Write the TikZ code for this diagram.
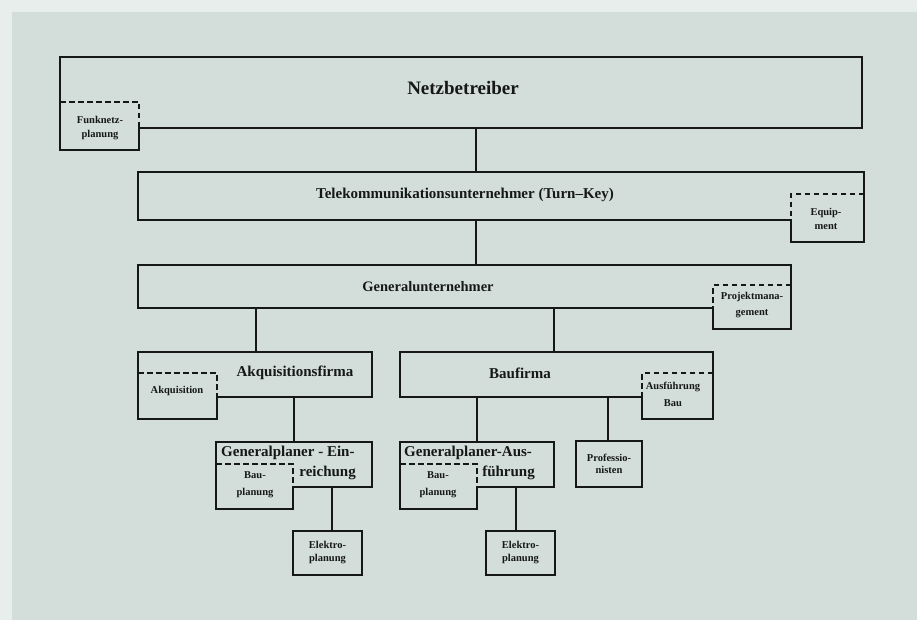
\documentclass[tikz,border=0pt]{standalone}
\usepackage{fontspec}
\setmainfont{Liberation Serif}
\definecolor{paper}{RGB}{232,238,236}
\definecolor{bg}{RGB}{211,222,219}
\definecolor{ink}{RGB}{22,24,24}
\begin{document}
\begin{tikzpicture}[x=1pt,y=-1pt,
  boxline/.style={draw=ink, line width=2pt, line join=miter},
  tabdash/.style={draw=ink, line width=1.7pt, dash pattern=on 5.5pt off 3.5pt},
  conn/.style={draw=ink, line width=2pt},
  bigtxt/.style={font=\bfseries\fontsize{19}{22}\selectfont, text=ink, inner sep=0pt},
  midtxt/.style={font=\bfseries\fontsize{15}{18}\selectfont, text=ink, inner sep=0pt},
  smalltxt/.style={font=\bfseries\fontsize{10.5}{14}\selectfont, text=ink, inner sep=0pt, align=center}]
\useasboundingbox (0,0) rectangle (917,620);
\fill[paper] (0,0) rectangle (917,620);
\fill[bg] (12,12) rectangle (917,620);

% ---------- Netzbetreiber ----------
\draw[boxline] (60,57) -- (862,57) -- (862,128) -- (139,128) -- (139,150) -- (60,150) -- cycle;
\draw[tabdash] (60,102) -- (139,102) -- (139,128);
\node[bigtxt] (netz) at (463,88) {Netzbetreiber};
\node[smalltxt] (funk) at (100,128) {Funknetz-\\planung};
\coordinate (netz-s) at (476,128);

% ---------- Telekom ----------
\draw[boxline] (138,172) -- (864,172) -- (864,242) -- (791,242) -- (791,220) -- (138,220) -- cycle;
\draw[tabdash] (864,194) -- (791,194) -- (791,220);
\node[midtxt] (tele) at (465,195) {Telekommunikationsunternehmer (Turn--Key)};
\node[smalltxt] (equip) at (826,219) {Equip-\\ment};
\coordinate (tele-n) at (476,172);
\coordinate (tele-s) at (476,220);

% ---------- Generalunternehmer ----------
\draw[boxline] (138,265) -- (791,265) -- (791,329) -- (713,329) -- (713,308) -- (138,308) -- cycle;
\draw[tabdash] (791,285) -- (713,285) -- (713,308);
\node[font=\bfseries\fontsize{14.5}{17}\selectfont, text=ink, inner sep=0pt] (gu) at (428,287) {Generalunternehmer};
\node[smalltxt, font=\bfseries\fontsize{10.5}{16}\selectfont] (projekt) at (752,305) {Projektmana-\\gement};
\coordinate (gu-n) at (476,265);
\coordinate (gu-s1) at (256,308);
\coordinate (gu-s2) at (554,308);

% ---------- Akquisitionsfirma ----------
\draw[boxline] (138,352) -- (372,352) -- (372,397) -- (217,397) -- (217,419) -- (138,419) -- cycle;
\draw[tabdash] (138,373) -- (217,373) -- (217,397);
\node[midtxt] (akqf) at (295,373) {Akquisitionsfirma};
\node[smalltxt] (akq) at (177,391) {Akquisition};
\coordinate (akqf-n) at (256,352);
\coordinate (akqf-s) at (294,397);

% ---------- Baufirma ----------
\draw[boxline] (400,352) -- (713,352) -- (713,419) -- (642,419) -- (642,397) -- (400,397) -- cycle;
\draw[tabdash] (713,373) -- (642,373) -- (642,397);
\node[midtxt] (bau) at (520,373) {Baufirma};
\node[smalltxt, font=\bfseries\fontsize{10.5}{17}\selectfont] (ausf) at (673,394) {Ausführung\\Bau};
\coordinate (bau-n) at (554,352);
\coordinate (bau-s1) at (477,397);
\coordinate (bau-s2) at (608,397);

% ---------- Generalplaner - Einreichung ----------
\draw[boxline] (216,442) -- (372,442) -- (372,487) -- (293,487) -- (293,509) -- (216,509) -- cycle;
\draw[tabdash] (216,464) -- (293,464) -- (293,487);
\node[midtxt, anchor=west] (gpe1) at (221,453) {Generalplaner - Ein-};
\node[midtxt, anchor=east] (gpe2) at (356,473) {reichung};
\node[smalltxt, font=\bfseries\fontsize{10.5}{17}\selectfont] (baupl1) at (255,485) {Bau-\\planung};
\coordinate (gpe-n) at (294,442);
\coordinate (gpe-s) at (332,487);

% ---------- Generalplaner-Ausfuehrung ----------
\draw[boxline] (400,442) -- (554,442) -- (554,487) -- (477,487) -- (477,509) -- (400,509) -- cycle;
\draw[tabdash] (400,464) -- (477,464) -- (477,487);
\node[midtxt, anchor=west] (gpa1) at (404,453) {Generalplaner-Aus-};
\node[midtxt, anchor=east] (gpa2) at (535,473) {führung};
\node[smalltxt, font=\bfseries\fontsize{10.5}{17}\selectfont] (baupl2) at (438,485) {Bau-\\planung};
\coordinate (gpa-n) at (477,442);
\coordinate (gpa-s) at (516,487);

% ---------- Professionisten ----------
\node[draw=ink, line width=2pt, minimum width=66pt, minimum height=46pt, inner sep=0pt,
      font=\bfseries\fontsize{10.5}{12}\selectfont, text=ink, align=center] (prof) at (609,464) {Professio-\\nisten};

% ---------- Elektroplanung ----------
\node[draw=ink, line width=2pt, minimum width=69pt, minimum height=44pt, inner sep=0pt,
      font=\bfseries\fontsize{10.5}{13}\selectfont, text=ink, align=center] (el1) at (327.5,553) {Elektro-\\planung};
\node[draw=ink, line width=2pt, minimum width=69pt, minimum height=44pt, inner sep=0pt,
      font=\bfseries\fontsize{10.5}{13}\selectfont, text=ink, align=center] (el2) at (520.5,553) {Elektro-\\planung};

% ---------- connectors ----------
\draw[conn] (netz-s) -- (tele-n);
\draw[conn] (tele-s) -- (gu-n);
\draw[conn] (gu-s1) -- (akqf-n);
\draw[conn] (gu-s2) -- (bau-n);
\draw[conn] (akqf-s) -- (gpe-n);
\draw[conn] (bau-s1) -- (gpa-n);
\draw[conn] (bau-s2) -- (prof.north -| bau-s2);
\draw[conn] (gpe-s) -- (el1.north -| gpe-s);
\draw[conn] (gpa-s) -- (el2.north -| gpa-s);
\end{tikzpicture}
\end{document}
